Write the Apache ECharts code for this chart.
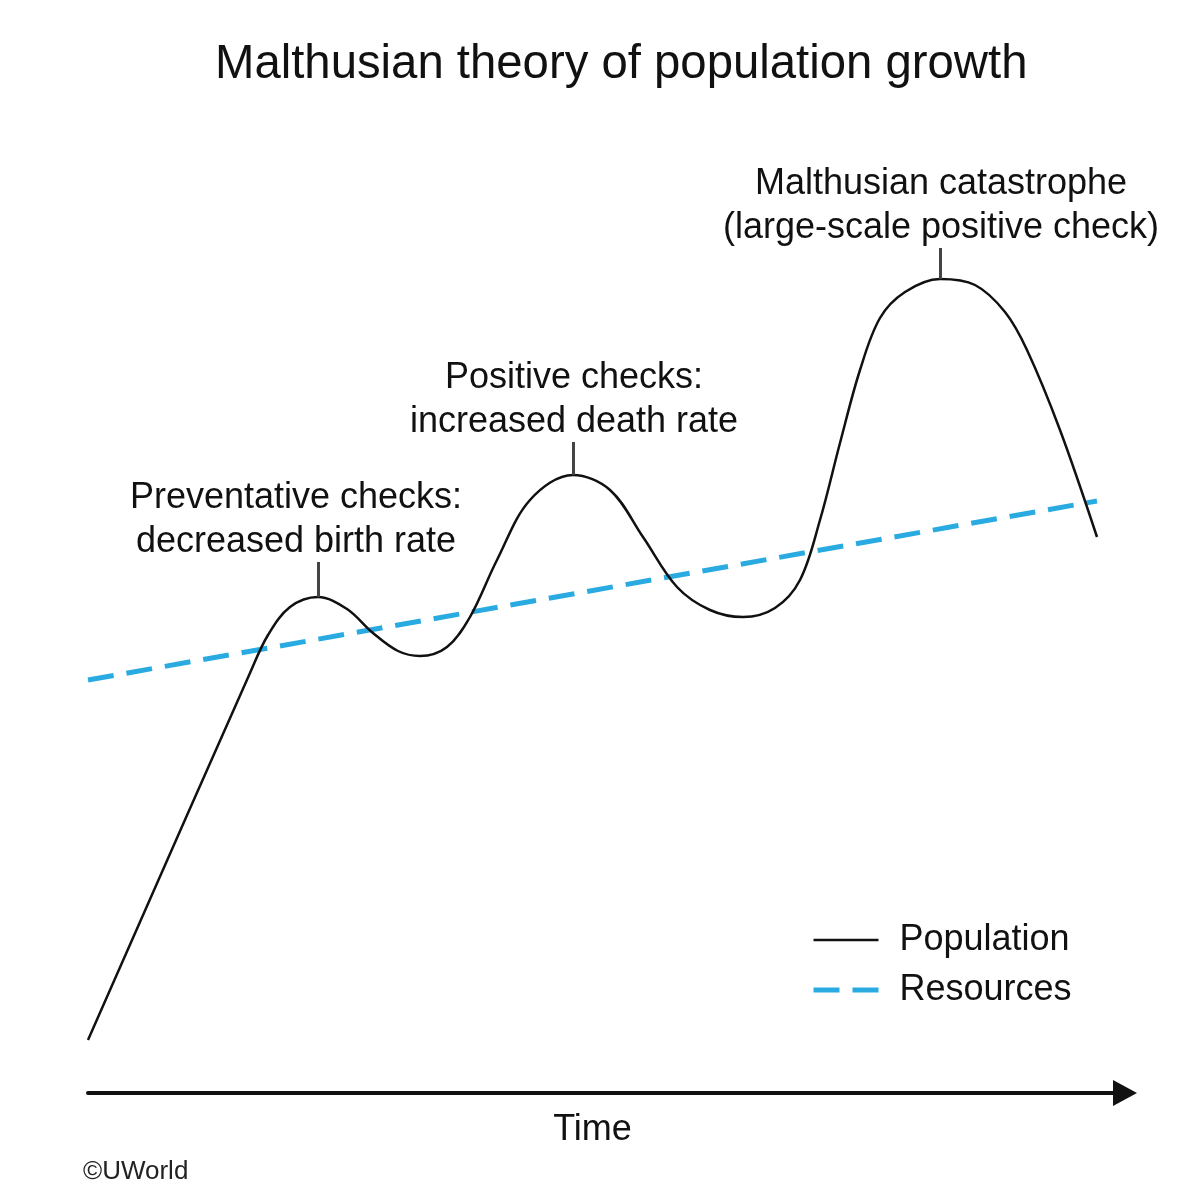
<!DOCTYPE html>
<html>
<head>
<meta charset="utf-8">
<script src="https://cdn.jsdelivr.net/npm/echarts@6/dist/echarts.min.js"></script>
<style>
  html, body { margin: 0; padding: 0; background: #fff; }
  #chart { width: 1184px; height: 1200px; }
</style>
</head>
<body>
<div id="chart"></div>
<script>
// time runs 0..1037, values 0..1000 (arbitrary units)
const popTime = [0, 162, 180, 202, 230, 259, 285, 310, 332, 359, 382, 409, 442, 485, 522, 555, 589, 622, 655, 687, 712, 732, 752, 772, 792, 817, 852, 887, 917, 939, 972, 1009];
const popValue = [53, 420, 458, 486, 496, 484, 460, 442, 437, 446, 476, 533, 593, 618, 603, 556, 506, 483, 476, 485, 513, 573, 650, 723, 775, 801, 814, 808, 781, 743, 663, 556];
const resTime = [0, 1009];
const resValue = [413, 592];

// peaks that carry an annotation
const peakTime = [230, 485, 852];
const peakValue = [496, 618, 814];
const peakTickTop = [531, 651, 845];
const peakText = [
  'Preventative checks:\ndecreased birth rate',
  'Positive checks:\nincreased death rate',
  'Malthusian catastrophe\n(large-scale positive check)'
];
const peakShift = [-22, 1, 1];

const FONT = "'Liberation Sans', Arial, sans-serif";
const INK = '#111';
const BLUE = '#29abe2';

let chart = echarts.init(document.getElementById('chart'));

let tickLines = [];
let tickLabels = [];
for (let i = 0; i < peakTime.length; i++) {
  tickLines.push([
    {coord: [peakTime[i], peakValue[i]]},
    {coord: [peakTime[i], peakTickTop[i]]}
  ]);
  tickLabels.push({
    coord: [peakTime[i], peakTickTop[i]],
    symbolSize: 0,
    label: {
      show: true,
      position: 'top',
      distance: -2,
      offset: [peakShift[i], 0],
      formatter: peakText[i],
      fontSize: 36,
      lineHeight: 44,
      color: INK,
      fontFamily: FONT,
      align: 'center'
    }
  });
}

let option = {
  animation: false,
  title: [{
    text: 'Malthusian theory of population growth',
    left: 210,
    top: 36,
    textStyle: {fontSize: 47.3, fontWeight: 'normal', color: INK, fontFamily: FONT}
  }, {
    text: '©UWorld',
    left: 78,
    top: 1154,
    textStyle: {fontSize: 26, fontWeight: 'normal', color: '#222', fontFamily: FONT}
  }],
  legend: {
    orient: 'vertical',
    left: 806,
    top: 915,
    itemWidth: 65,
    itemHeight: 20,
    itemGap: 10,
    itemStyle: {opacity: 0},
    data: [
      {name: 'Population', lineStyle: {color: INK, width: 2.5, type: 'solid'}},
      {name: 'Resources', lineStyle: {color: BLUE, width: 5, type: [26, 13]}}
    ],
    textStyle: {fontSize: 36, lineHeight: 40, color: INK, fontFamily: FONT, padding: [0, 0, 0, 16]}
  },
  grid: {left: 88, right: 59, top: 93, bottom: 107},
  xAxis: {
    type: 'value',
    min: 0,
    max: 1037,
    name: 'Time',
    nameLocation: 'middle',
    nameGap: 19,
    nameTextStyle: {fontSize: 36, color: INK, fontFamily: FONT, padding: [0, 28, 0, 0]},
    axisLine: {
      show: true,
      symbol: ['none', 'triangle'],
      symbolSize: [26, 24],
      lineStyle: {color: INK, width: 4}
    },
    axisTick: {show: false},
    axisLabel: {show: false},
    splitLine: {show: false}
  },
  yAxis: {
    type: 'value',
    min: 0,
    max: 1000,
    show: false,
    splitLine: {show: false}
  },
  series: [{
    name: 'Population',
    type: 'line',
    data: popTime.map(function (t, i) { return [t, popValue[i]]; }),
    smooth: 0.35,
    symbol: 'none',
    itemStyle: {color: INK},
    lineStyle: {color: INK, width: 2.5},
    z: 3,
    markLine: {
      silent: true,
      symbol: ['none', 'none'],
      label: {show: false},
      lineStyle: {color: '#444', width: 3, type: 'solid'},
      data: tickLines
    },
    markPoint: {
      silent: true,
      symbol: 'circle',
      data: tickLabels
    }
  }, {
    name: 'Resources',
    type: 'line',
    data: resTime.map(function (t, i) { return [t, resValue[i]]; }),
    symbol: 'none',
    itemStyle: {color: BLUE},
    lineStyle: {color: BLUE, width: 5, type: [26, 13]},
    z: 2
  }]
};

chart.setOption(option);
</script>
</body>
</html>
